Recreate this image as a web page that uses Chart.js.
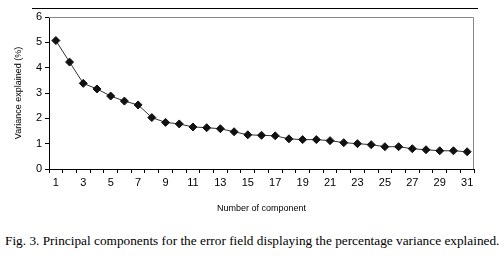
<!DOCTYPE html>
<html>
<head>
<meta charset="utf-8">
<script src="https://cdn.jsdelivr.net/npm/chart.js@4"></script>
<style>
  body { margin: 0; background: #fff; }
  #wrap { position: relative; width: 500px; height: 259px; }
  #topline { position: absolute; left: 32px; top: 8px; width: 446px; height: 1px; background: #000; }
  #chartBox { position: absolute; left: 0; top: 0; width: 500px; height: 220px; }
  #caption { position: absolute; left: 5px; top: 233px; font-family: "Liberation Serif", "DejaVu Serif", serif; font-size: 13.3px; color: #000; white-space: nowrap; }
</style>
</head>
<body>
<div id="wrap">
  <div id="chartBox"><canvas id="pca"></canvas></div>
  <div id="topline"></div>
  <div id="caption">Fig. 3. Principal components for the error field displaying the percentage variance explained.</div>
</div>
<script>
const components = [];
for (let i = 1; i <= 31; i++) components.push(String(i));

const varianceExplained = [
  5.07, 4.22, 3.38, 3.16, 2.88, 2.68, 2.53, 2.03, 1.84, 1.78,
  1.66, 1.63, 1.59, 1.47, 1.35, 1.33, 1.31, 1.19, 1.16, 1.16,
  1.12, 1.04, 1.00, 0.96, 0.88, 0.88, 0.80, 0.76, 0.72, 0.72,
  0.68
];

const yTicks = [0, 1, 2, 3, 4, 5, 6];

// gray frame on the top and right of the plot area
const frame = {
  id: 'frame',
  afterDraw(chart) {
    const a = chart.chartArea;
    const ctx = chart.ctx;
    ctx.save();
    ctx.strokeStyle = '#888';
    ctx.lineWidth = 1;
    ctx.beginPath();
    ctx.moveTo(a.left, a.top + 0.5);
    ctx.lineTo(a.right - 0.5, a.top + 0.5);
    ctx.lineTo(a.right - 0.5, a.bottom);
    ctx.stroke();
    ctx.restore();
  }
};

new Chart(document.getElementById('pca').getContext('2d'), {
  type: 'line',
  data: {
    labels: components,
    datasets: [{
      data: varianceExplained,
      borderColor: '#333',
      borderWidth: 1,
      pointStyle: 'rectRot',
      pointRadius: 4,
      pointBackgroundColor: '#111',
      pointBorderColor: '#111',
      tension: 0
    }]
  },
  options: {
    responsive: true,
    maintainAspectRatio: false,
    animation: false,
    layout: { padding: { left: 0, right: 26, top: 17, bottom: 0 } },
    plugins: { legend: { display: false }, tooltip: { enabled: false } },
    scales: {
      x: {
        offset: true,
        grid: { offset: true, drawOnChartArea: false, drawTicks: true, tickLength: 4, color: '#000' },
        border: { display: true, color: '#000' },
        ticks: {
          autoSkip: false,
          maxRotation: 0,
          padding: 3,
          color: '#000',
          font: { family: 'Liberation Sans, Arial, sans-serif', size: 11 },
          callback: function(v, i) { return i % 2 === 0 ? components[i] : ''; }
        },
        title: {
          display: true,
          text: 'Number of component',
          color: '#000',
          font: { family: 'Liberation Sans, Arial, sans-serif', size: 9 },
          padding: { top: 8, bottom: 6 }
        },
        afterFit: function(s) { s.height = 51; }
      },
      y: {
        min: 0,
        max: 6,
        afterBuildTicks: function(s) { s.ticks = yTicks.map(v => ({ value: v })); },
        grid: { drawOnChartArea: false, drawTicks: true, tickLength: 4, color: '#000' },
        border: { display: true, color: '#000' },
        ticks: {
          padding: 3,
          color: '#000',
          font: { family: 'Liberation Sans, Arial, sans-serif', size: 11 }
        },
        title: {
          display: true,
          text: 'Variance explained (%)',
          color: '#000',
          font: { family: 'Liberation Sans, Arial, sans-serif', size: 9 },
          padding: { top: 13, bottom: 6 }
        },
        afterFit: function(s) { s.width = 49; }
      }
    }
  },
  plugins: [frame]
});
</script>
</body>
</html>
